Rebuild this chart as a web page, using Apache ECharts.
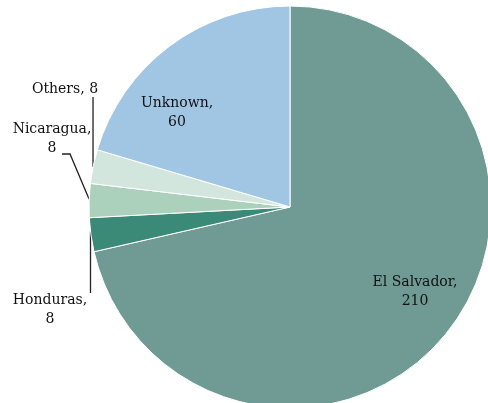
<!DOCTYPE html>
<html><head><meta charset="utf-8">
<script src="https://cdn.jsdelivr.net/npm/echarts@6/dist/echarts.min.js"></script>
<style>html,body{margin:0;padding:0;background:#fff}#c{width:488px;height:403px}</style>
</head><body><div id="c"></div>
<script>
const categories = ['El Salvador', 'Honduras', 'Nicaragua', 'Others', 'Unknown'];
const values = [210, 8, 8, 8, 60];
const colors = ['#6f9b94', '#3b8a78', '#abd0bb', '#d3e6dd', '#a0c6e4'];
const labelTexts = ['El Salvador,\n210', 'Honduras,\n8', 'Nicaragua,\n8', 'Others, 8', 'Unknown,\n60'];
// label block centres (layout)
const labelPos = [[415, 292], [50, 310], [52, 139], [65, 89], [177, 113]];
const outside = [false, true, true, true, false];

const CX = 290, CY = 207, R = 201;
// leader-line anchor angles on the rim (screen degrees), and elbow points
const anchorDeg = [null, 173, 182.2, 191.5, null];
function rim(deg) {
  const a = deg * Math.PI / 180;
  return [CX + R * Math.cos(a), CY + R * Math.sin(a)];
}
const leaderFns = [
  null,
  a => [[a[0], 293], [a[0], 262], a],          // Honduras: vertical
  a => [[62, 154], [70, 154], a],               // Nicaragua: short horizontal then diagonal
  a => [[a[0], 97], [a[0], 130], a],            // Others: vertical
  null
];

const chart = echarts.init(document.getElementById('c'), null, {renderer: 'canvas'});
chart.setOption({
  animation: false,
  series: [{
    type: 'pie',
    center: [CX, CY],
    radius: R,
    startAngle: 90,
    clockwise: true,
    avoidLabelOverlap: false,
    itemStyle: {borderColor: '#fff', borderWidth: 1},
    label: {
      fontFamily: 'DejaVu Serif', fontSize: 14, color: '#111', lineHeight: 19, align: 'center'
    },
    labelLine: {lineStyle: {color: '#222', width: 1.3}},
    labelLayout: function (p) {
      const i = p.dataIndex;
      const pos = labelPos[i];
      const out = {x: pos[0], y: pos[1], align: 'center', verticalAlign: 'middle'};
      if (leaderFns[i]) out.labelLinePoints = leaderFns[i](rim(anchorDeg[i]));
      return out;
    },
    data: categories.map((c, i) => ({
      name: c, value: values[i],
      itemStyle: {color: colors[i]},
      label: {show: true, position: outside[i] ? 'outside' : 'inside', formatter: labelTexts[i]},
      labelLine: {show: outside[i], length: 10, length2: 10}
    }))
  }]
});
</script></body></html>
